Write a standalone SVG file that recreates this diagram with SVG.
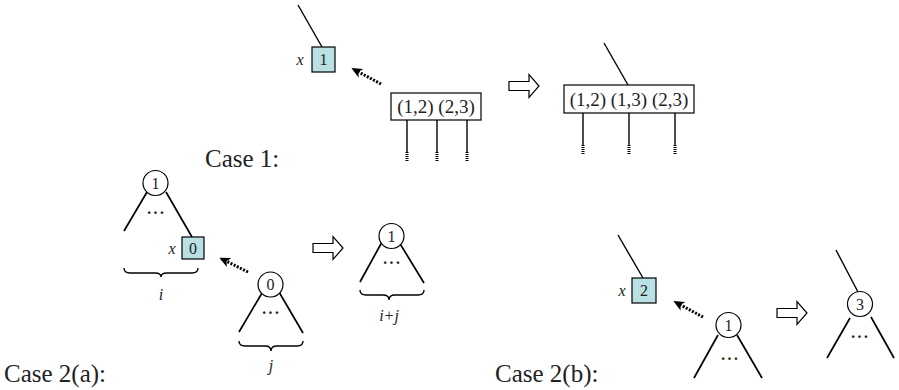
<svg xmlns="http://www.w3.org/2000/svg" width="899" height="390" viewBox="0 0 899 390">
  <style>
    .ln { stroke: #000; stroke-width: 1.4; fill: none; }
    .br { stroke: #000; stroke-width: 1.7; fill: none; }
    .tip { stroke: #000; stroke-width: 3; stroke-dasharray: 1 1; fill: none; }
    .dot { stroke: #000; stroke-width: 3; stroke-dasharray: 2 1.5; fill: none; }
    .box { fill: #fff; stroke: #000; stroke-width: 1.2; }
    .key { fill: #b9e0e3; stroke: #000; stroke-width: 1.2; }
    .node { fill: #fff; stroke: #000; stroke-width: 1.2; }
    .blk { fill: #fff; stroke: #000; stroke-width: 1.2; }
    .t { font-family: "Liberation Serif", serif; font-size: 19px; fill: #222; text-anchor: middle; }
    .n { font-family: "Liberation Serif", serif; font-size: 16px; fill: #222; text-anchor: middle; }
    .v { font-family: "Liberation Serif", serif; font-size: 16px; font-style: italic; fill: #222; text-anchor: middle; }
    .cap { font-family: "Liberation Serif", serif; font-size: 25px; fill: #222; }
    .dots { font-family: "Liberation Serif", serif; font-size: 16px; font-weight: bold; fill: #222; text-anchor: middle; letter-spacing: 1px; }
  </style>
  <defs>
    <marker id="head" markerWidth="12" markerHeight="12" refX="8" refY="5" orient="auto" markerUnits="userSpaceOnUse">
      <path d="M0,0 L11,5 L0,10 L3,5 z" fill="#000"/>
    </marker>
    <!-- block arrow, 30 wide, centred on y=0 -->
    <path id="blk" d="M0,-4.5 H20 V-11.5 L30,0 L20,11.5 V4.5 H0 Z"/>
  </defs>

  <!-- Case 1 -->
  <text class="cap" x="205" y="167">Case 1:</text>
  <g id="c1-key">
    <line class="ln" x1="298" y1="5" x2="322" y2="47"/>
    <rect class="key" x="312" y="47" width="23" height="25"/>
    <text class="n" x="323.5" y="65">1</text>
    <text class="v" x="300" y="65">x</text>
  </g>
  <g id="c1-node">
    <rect class="box" x="391" y="93" width="90" height="27"/>
    <text class="t" x="436" y="113">(1,2) (2,3)</text>
    <line class="ln" x1="407" y1="120" x2="407" y2="152"/>
    <line class="ln" x1="437" y1="120" x2="437" y2="152"/>
    <line class="ln" x1="467" y1="120" x2="467" y2="152"/>
    <line class="tip" x1="407" y1="152" x2="407" y2="162"/>
    <line class="tip" x1="437" y1="152" x2="437" y2="162"/>
    <line class="tip" x1="467" y1="152" x2="467" y2="162"/>
  </g>
  <use href="#blk" class="blk" x="509" y="86"/>
  <g id="c1-result">
    <line class="ln" x1="604" y1="43" x2="628" y2="85"/>
    <rect class="box" x="564" y="85" width="130" height="28"/>
    <text class="t" x="629" y="106">(1,2) (1,3) (2,3)</text>
    <line class="ln" x1="583" y1="113" x2="583" y2="145"/>
    <line class="ln" x1="629" y1="113" x2="629" y2="145"/>
    <line class="ln" x1="675" y1="113" x2="675" y2="145"/>
    <line class="tip" x1="583" y1="145" x2="583" y2="155"/>
    <line class="tip" x1="629" y1="145" x2="629" y2="155"/>
    <line class="tip" x1="675" y1="145" x2="675" y2="155"/>
  </g>

  <!-- Case 2(a) -->
  <text class="cap" x="4" y="382">Case 2(a):</text>
  <g id="c2a-left">
    <line class="br" x1="147" y1="192" x2="124" y2="231"/>
    <line class="br" x1="166" y1="192" x2="192" y2="237"/>
    <circle class="node" cx="155.5" cy="183" r="12.5"/>
    <text class="n" x="155.5" y="188.5">1</text>
    <text class="dots" x="156" y="218">···</text>
    <rect class="key" x="182" y="237" width="22" height="22"/>
    <text class="n" x="193" y="254">0</text>
    <text class="v" x="172" y="254">x</text>
    <path class="ln" d="M124,268 Q124,273 130,273 H155 Q161,273 161,277 Q161,273 167,273 H192 Q198,273 198,268"/>
    <text class="v" x="161" y="300">i</text>
  </g>
  <g id="c2a-right">
    <line class="br" x1="262" y1="293" x2="239" y2="332"/>
    <line class="br" x1="279" y1="292" x2="303" y2="333"/>
    <circle class="node" cx="270.5" cy="284.5" r="12.5"/>
    <text class="n" x="270.5" y="290">0</text>
    <text class="dots" x="271" y="318">···</text>
    <path class="ln" d="M239,341 Q239,346 245,346 H265 Q271,346 271,351 Q271,346 277,346 H297 Q303,346 303,341"/>
    <text class="v" x="271" y="371">j</text>
  </g>
  <use href="#blk" class="blk" x="313" y="248"/>
  <g id="c2a-result">
    <line class="br" x1="382" y1="242" x2="360" y2="282"/>
    <line class="br" x1="399" y1="242" x2="424" y2="283"/>
    <circle class="node" cx="391.5" cy="236" r="12.5"/>
    <text class="n" x="391.5" y="241.5">1</text>
    <text class="dots" x="392" y="268">···</text>
    <path class="ln" d="M360,290 Q360,295 366,295 H383 Q389,295 389,300 Q389,295 395,295 H418 Q424,295 424,290"/>
    <text class="v" x="389" y="321">i+j</text>
  </g>

  <!-- Case 2(b) -->
  <text class="cap" x="495" y="382">Case 2(b):</text>
  <g id="c2b-key">
    <line class="ln" x1="618" y1="235" x2="643" y2="278"/>
    <rect class="key" x="632" y="278" width="24" height="25"/>
    <text class="n" x="644" y="296">2</text>
    <text class="v" x="622" y="296">x</text>
  </g>
  <g id="c2b-node">
    <line class="br" x1="718" y1="335" x2="694" y2="378"/>
    <line class="br" x1="737" y1="335" x2="762" y2="378"/>
    <circle class="node" cx="728.5" cy="325" r="12.5"/>
    <text class="n" x="728.5" y="330.5">1</text>
    <text class="dots" x="730" y="364">···</text>
  </g>
  <use href="#blk" class="blk" x="777" y="313"/>
  <g id="c2b-result">
    <line class="ln" x1="836" y1="250" x2="858" y2="292"/>
    <line class="br" x1="850" y1="318" x2="827" y2="358"/>
    <line class="br" x1="871" y1="317" x2="894" y2="358"/>
    <circle class="node" cx="860" cy="304" r="12.5"/>
    <text class="n" x="860" y="309.5">3</text>
    <text class="dots" x="860" y="342">···</text>
  </g>

  <!-- connectors: pending insertions -->
  <g id="connectors">
    <line class="dot" x1="381" y1="84" x2="354" y2="69.5" marker-end="url(#head)"/>
    <line class="dot" x1="248" y1="272" x2="222" y2="259" marker-end="url(#head)"/>
    <line class="dot" x1="703" y1="317" x2="676" y2="302.5" marker-end="url(#head)"/>
  </g>
</svg>
